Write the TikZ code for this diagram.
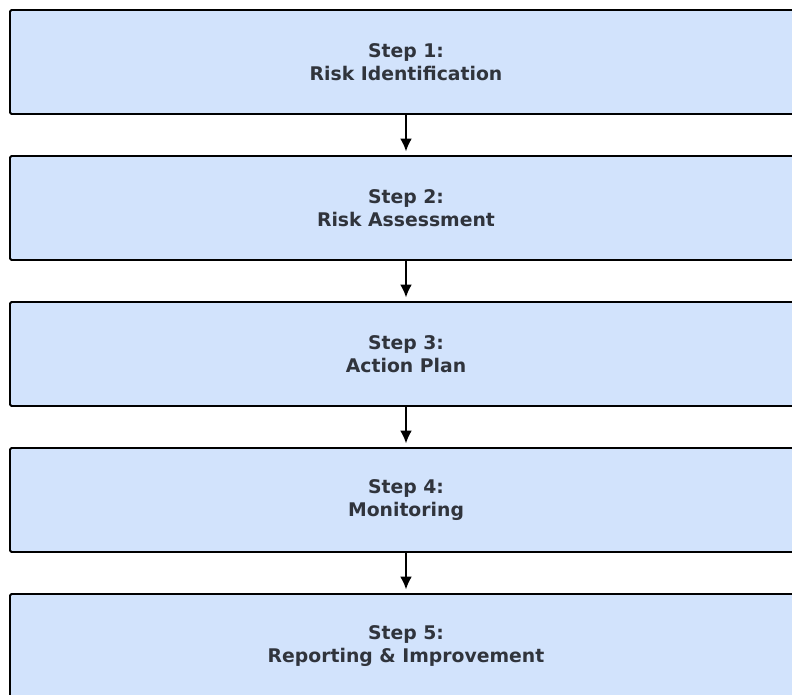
\documentclass[tikz,border=0pt]{standalone}
\usepackage{fontspec}
\setmainfont{DejaVu Sans}
\usetikzlibrary{positioning,arrows.meta}
\definecolor{stepfill}{RGB}{210,227,252}
\definecolor{steptext}{RGB}{48,52,60}

\begin{document}
\begin{tikzpicture}[x=1pt,y=-1pt,
  >={Latex[length=13pt,width=12pt]},
  node distance=40.2pt,align=center,
  stepbox/.style={rectangle,draw=black,line width=1.8pt,rounded corners=1.5pt,
    fill=stepfill,minimum width=792pt,minimum height=104pt,
    font=\fontsize{18.8}{23.5}\selectfont\bfseries,text=steptext},
  flow/.style={->,line width=2.5pt,shorten >=3.5pt}
  ]
  \clip (0,0) rectangle (792,694);
  \useasboundingbox (0,0) rectangle (792,694);

  \node[stepbox] (s1) at (406,62) {Step 1:\\Risk Identification};
  \node[stepbox,below=of s1] (s2) {Step 2:\\Risk Assessment};
  \node[stepbox,below=of s2] (s3) {Step 3:\\Action Plan};
  \node[stepbox,below=of s3] (s4) {Step 4:\\Monitoring};
  \node[stepbox,below=of s4] (s5) {Step 5:\\Reporting \& Improvement};

  \draw[flow] (s1) -- (s2);
  \draw[flow] (s2) -- (s3);
  \draw[flow] (s3) -- (s4);
  \draw[flow] (s4) -- (s5);
\end{tikzpicture}
\end{document}
